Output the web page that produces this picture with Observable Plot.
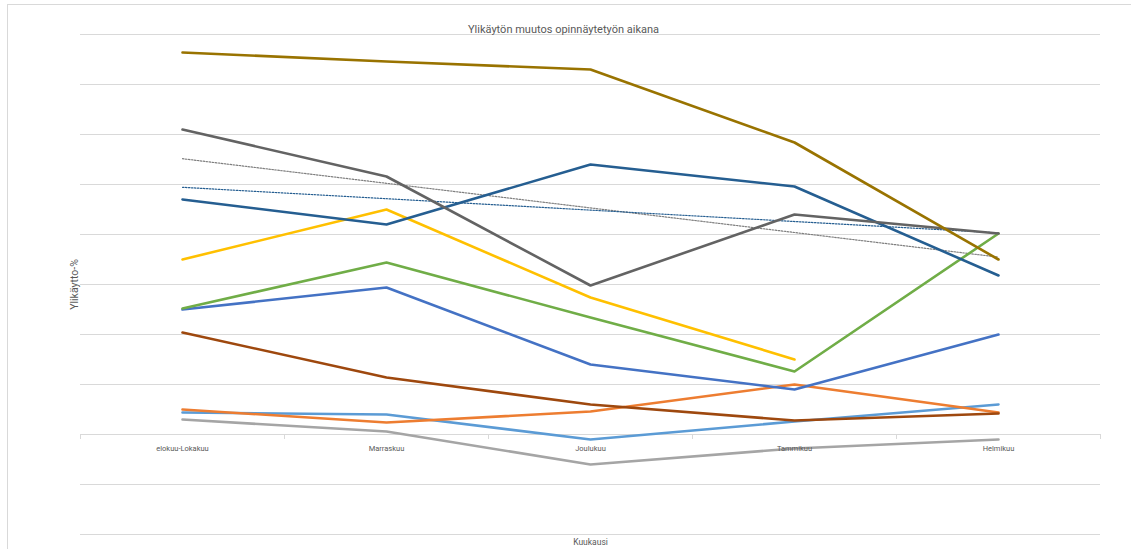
<!DOCTYPE html>
<html>
<head>
<meta charset="utf-8">
<script src="https://cdn.jsdelivr.net/npm/d3@7"></script>
<script src="https://cdn.jsdelivr.net/npm/@observablehq/plot@0.6"></script>
<style>
  html, body { margin: 0; padding: 0; background: #ffffff; }
  #wrap { position: relative; width: 1131px; height: 549px; overflow: hidden; }
  #border { position: absolute; left: 7px; top: 4px; width: 1140px; height: 570px; border: 1px solid #d9d9d9; box-sizing: border-box; pointer-events: none; }
  #chart { position: absolute; left: 0; top: 0; }
</style>
</head>
<body>
<div id="wrap"><div id="border"></div><div id="chart"></div></div>
<script>
const title = "Ylikäytön muutos opinnäytetyön aikana";
const yLabel = "Ylikäytto-%";
const xLabel = "Kuukausi";
const categories = ["elokuu-Lokakuu", "Marraskuu", "Joulukuu", "Tammikuu", "Helmikuu"];
const gridTicks = [-10, -5, 0, 5, 10, 15, 20, 25, 30, 35, 40];

// series values, one per category
const seriesGold     = [38.2, 37.3, 36.5, 29.2, 17.5];
const seriesDarkGray = [30.5, 25.8, 14.9, 22.0, 20.1];
const seriesDarkBlue = [23.5, 21.0, 27.0, 24.8, 15.9];
const seriesYellow   = [17.5, 22.5, 13.7, 7.5, null];
const seriesGreen    = [12.6, 17.2, 11.7, 6.3, 20.1];
const seriesBlue     = [12.5, 14.7, 7.0, 4.5, 10.0];
const seriesBrown    = [10.2, 5.7, 3.0, 1.4, 2.1];
const seriesOrange   = [2.5, 1.2, 2.3, 5.0, 2.2];
const seriesLightBlue= [2.2, 2.0, -0.5, 1.3, 3.0];
const seriesGray     = [1.5, 0.3, -3.0, -1.4, -0.5];

const seriesList = [
  {name: "s1", values: seriesLightBlue, color: "#5B9BD5"},
  {name: "s2", values: seriesOrange, color: "#ED7D31"},
  {name: "s3", values: seriesGray, color: "#A5A5A5"},
  {name: "s4", values: seriesYellow, color: "#FFC000"},
  {name: "s5", values: seriesBlue, color: "#4472C4"},
  {name: "s6", values: seriesGreen, color: "#70AD47"},
  {name: "s7", values: seriesDarkBlue, color: "#255E91"},
  {name: "s8", values: seriesBrown, color: "#9E480E"},
  {name: "s9", values: seriesDarkGray, color: "#636363"},
  {name: "s10", values: seriesGold, color: "#997300"}
];

const rows = [];
for (const s of seriesList) {
  s.values.forEach((v, i) => rows.push({series: s.name, i, cat: categories[i], value: v, color: s.color}));
}
const darkGrayRows = rows.filter(d => d.series === "s9");
const darkBlueRows = rows.filter(d => d.series === "s7");
const catRows = categories.map((c, i) => ({c, i}));
const boundaries = d3.range(categories.length + 1).map(i => i - 0.5);

const font = "Roboto, 'Open Sans', sans-serif";

const chart = Plot.plot({
  width: 1131,
  height: 549,
  marginLeft: 80,
  marginRight: 31,
  marginTop: 34,
  marginBottom: 15,
  style: {fontFamily: font, background: "transparent", overflow: "visible"},
  x: {domain: [-0.5, categories.length - 0.5], axis: null},
  y: {domain: [-10, 40], axis: null},
  marks: [
    Plot.ruleY(gridTicks, {stroke: "#d9d9d9", strokeWidth: 1}),
    Plot.ruleX(boundaries, {y1: 0, y2: -0.5, stroke: "#d9d9d9", strokeWidth: 1}),
    Plot.linearRegressionY(darkGrayRows, {x: "i", y: "value", ci: 0, stroke: "#7f7f7f", strokeWidth: 1.2, strokeDasharray: "1.5 1.5"}),
    Plot.linearRegressionY(darkBlueRows, {x: "i", y: "value", ci: 0, stroke: "#255E91", strokeWidth: 1.2, strokeDasharray: "1.5 1.5"}),
    Plot.line(rows, {x: "i", y: "value", z: "series", stroke: "color", strokeWidth: 2.6, strokeLinejoin: "round", strokeLinecap: "round"}),
    Plot.text(catRows, {x: "i", y: 0, text: "c", dy: 14, fontSize: 7.5, fill: "#595959"}),
    Plot.text([title], {frameAnchor: "top", dx: -27, dy: -9, fontSize: 11, fill: "#595959"}),
    Plot.text([yLabel], {frameAnchor: "left", dx: -6, rotate: -90, textAnchor: "middle", fontSize: 10.5, fill: "#595959"}),
    Plot.text([xLabel], {frameAnchor: "bottom", dy: 10, fontSize: 8.5, fill: "#595959"})
  ]
});
document.getElementById("chart").appendChild(chart);
</script>
</body>
</html>
